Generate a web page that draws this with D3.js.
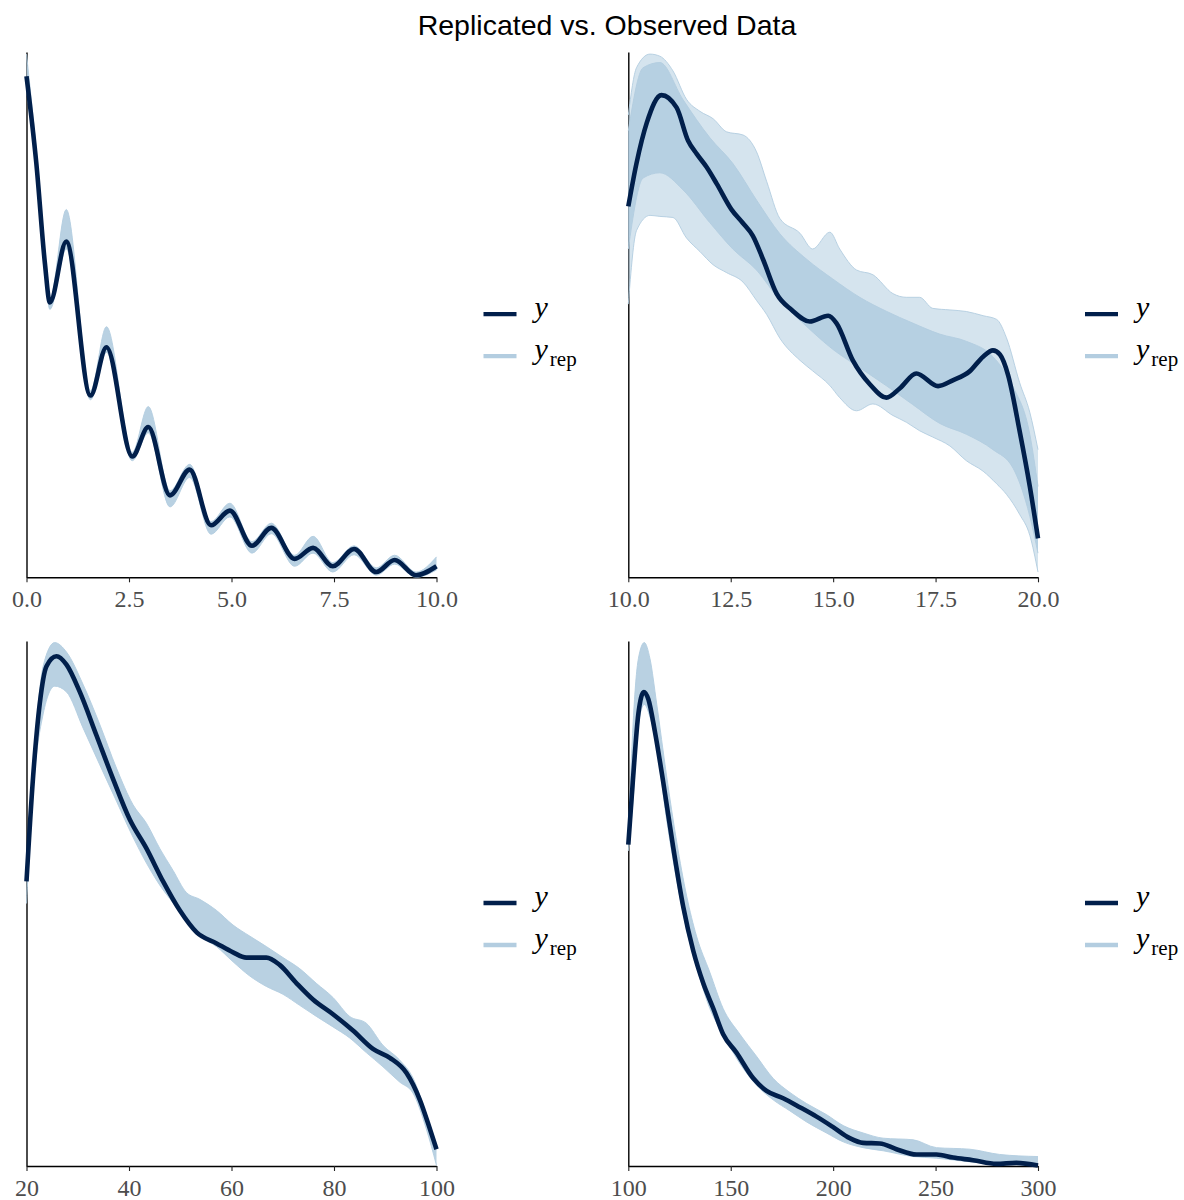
<!DOCTYPE html>
<html>
<head>
<meta charset="utf-8">
<script src="https://cdn.jsdelivr.net/npm/d3@7"></script>
<style>
  html, body { margin: 0; padding: 0; background: #ffffff; }
  svg { display: block; }
</style>
</head>
<body>
<div id="chart"></div>
<script>
// ---------------- DATA (relative density) ----------------
// Panel 1: observed y density
const p1X = [0, 0.24, 0.45, 0.57, 0.97, 1.56, 1.95, 2.58, 2.97, 3.5, 3.98, 4.5, 4.96, 5.5, 5.97, 6.54, 6.99, 7.47, 7.99, 8.53, 8.98, 9.5, 10];
const p1Y = [95.4, 78.8, 59.7, 52.3, 63.9, 34.6, 43.8, 23.0, 28.6, 15.6, 20.5, 9.9, 12.7, 6.0, 9.4, 3.5, 5.6, 2.1, 5.4, 1.0, 3.3, 0.4, 2.1];
// Panel 1: envelope of the replicated densities
const p1RepHi = [99.6, 81, 61, 53, 70, 35.5, 47.7, 23.8, 32.5, 16.5, 21.5, 10.6, 14.1, 6.8, 10.3, 4.2, 7.8, 2.8, 6.0, 1.8, 4.2, 1.0, 3.9];
const p1RepLo = [93, 77, 58.5, 51, 62.5, 33.8, 42.8, 22.2, 27.5, 13.4, 19.0, 8.2, 11.5, 4.6, 8.3, 2.1, 4.6, 1.0, 4.3, 0.4, 2.5, 0.0, 1.4];
const p1Ticks = [0, 2.5, 5, 7.5, 10];

// Panel 2
const p2X = [10.0, 10.2, 10.45, 10.81, 11.18, 11.46, 11.67, 11.91, 12.16, 12.52, 12.79, 13.04, 13.29, 13.62, 13.99, 14.43, 14.88, 15.08, 15.48, 15.9, 16.3, 16.63, 17.03, 17.56, 17.92, 18.33, 18.66, 18.9, 19.07, 19.27, 19.55, 19.8, 20.0];
const p2Y = [70.6, 78.8, 86.5, 91.8, 89.4, 83.1, 80.6, 78.1, 74.9, 70.0, 67.5, 65.0, 60.5, 54.0, 50.9, 48.7, 49.8, 48.4, 41.3, 36.7, 34.2, 36.0, 38.8, 36.4, 37.5, 39.2, 42.0, 43.2, 42.4, 38.5, 27.9, 17.3, 7.4];
const p2CoreX = [10.0, 10.36, 10.77, 11.33, 11.99, 12.55, 13.14, 13.7, 14.36, 14.99, 15.65, 16.31, 16.94, 17.6, 18.26, 18.9, 19.39, 19.8, 20.0];
const p2CoreHi = [85, 97, 98, 91, 83.7, 78.8, 71.7, 65.4, 60.5, 56.8, 53.3, 50.6, 48.4, 46.3, 44.9, 42.0, 36.3, 27.2, 17.3];
const p2CoreLo = [62.5, 76, 77, 73.8, 67.5, 62.5, 58.4, 52.7, 47.7, 43.4, 39.9, 36.4, 32.9, 29.3, 27.2, 24.3, 20.8, 11.6, 4.6];
const p2OutX = [10.0, 10.2, 10.53, 10.77, 11.09, 11.42, 11.75, 12.07, 12.4, 12.8, 13.13, 13.38, 13.7, 14.19, 14.5, 14.92, 15.16, 15.57, 15.97, 16.46, 16.79, 17.11, 17.43, 17.85, 18.25, 18.66, 18.99, 19.23, 19.55, 19.8, 20.0];
const p2OutHi = [88, 97, 99.6, 99.2, 96.4, 91, 88.7, 87.3, 84.8, 84.2, 81, 75.3, 68.3, 65.5, 62.5, 65.7, 62.5, 58.5, 57.6, 54.0, 53.3, 53.3, 51.2, 50.9, 50.6, 49.8, 49.1, 45.6, 37.1, 31.4, 24.3];
const p2OutLo = [52, 66.0, 68.9, 68.7, 68.5, 64.6, 62, 59.5, 58.0, 56.2, 52.7, 50, 45.5, 41.3, 39.3, 36.5, 34.2, 31.7, 33.0, 30.8, 29.5, 27.9, 26.7, 25.0, 22.2, 20.2, 17.8, 15.8, 12, 8.0, 1.0];
const p2Ticks = [10, 12.5, 15, 17.5, 20];

// Panel 3
const p3X = [20, 21.3, 22.6, 23.9, 25.85, 27.8, 30.4, 33.66, 36.9, 40.15, 43.4, 46.65, 49.9, 53.2, 57.1, 60.3, 62.9, 66.8, 69.4, 72.7, 75.9, 79.8, 83.7, 87.6, 90.9, 94.15, 96.75, 98.7, 100];
const p3Y = [54.2, 74.3, 88.2, 95.2, 97.1, 95.5, 90.3, 82.0, 73.7, 66.0, 60.5, 54.2, 48.7, 44.5, 42.4, 40.7, 39.7, 39.7, 38.3, 34.8, 31.7, 28.9, 25.8, 22.3, 20.6, 17.7, 12.6, 7.1, 3.2];
const p3RepX = [20, 21.3, 23.25, 25.5, 27.8, 31.05, 34.3, 37.55, 40.8, 43.4, 46, 48.6, 51.2, 53.8, 57.05, 60.3, 63.55, 66.8, 70.05, 73.3, 76.55, 79.8, 83.05, 86.3, 89.55, 92.8, 95.4, 98, 100];
const p3RepHi = [55, 75.8, 95.2, 99.7, 97.9, 91.7, 84.1, 75.8, 68.8, 65.3, 60.5, 56.3, 52.1, 50.8, 48.7, 45.9, 43.8, 41.8, 39.7, 37.6, 34.8, 32.1, 28.5, 27.2, 23.0, 20.2, 16.8, 9.8, 3.5];
const p3RepLo = [50, 71.6, 86.1, 91.4, 90.3, 83.4, 76.4, 69.5, 62.6, 57.7, 53.5, 50.1, 46.6, 43.8, 41.8, 38.9, 36.2, 34.2, 32.7, 30.6, 28.5, 26.5, 24.4, 21.6, 18.9, 16.0, 13.9, 7.1, 0.1];
const p3Ticks = [20, 40, 60, 80, 100];

// Panel 4
const p4X = [100, 102.4, 104.9, 107.6, 109.8, 113, 117.1, 122, 126.8, 131.7, 136.6, 141.5, 146.3, 152.8, 161, 167.5, 175.6, 183.7, 191.9, 200, 208.1, 214.6, 222.8, 230.9, 240.7, 250.4, 258.5, 268.3, 279.7, 289.4, 300];
const p4Y = [61.2, 74.3, 86.1, 90.3, 88.9, 82.7, 73.0, 60.5, 49.4, 41.0, 34.8, 30.0, 25.1, 21.6, 16.7, 14.3, 12.9, 11.2, 9.4, 7.4, 5.3, 4.4, 4.3, 3.2, 2.2, 2.2, 1.6, 1.1, 0.4, 0.6, 0.1];
const p4RepX = [100, 102.4, 104.9, 107.8, 110.6, 113.8, 118.7, 123.6, 128.5, 133.3, 139.8, 146.3, 154.5, 162.6, 170.7, 178.9, 187, 196.7, 204.9, 214.6, 224.4, 239, 250.4, 266.7, 281.3, 300];
const p4RepHi = [62, 84.7, 96.6, 99.7, 96.6, 88.2, 74.3, 61.8, 51.4, 43.8, 36.9, 30.0, 25.1, 20.9, 16.7, 14.0, 11.9, 9.8, 7.7, 6.3, 5.3, 5.0, 3.5, 3.2, 2.2, 1.8];
const p4RepLo = [60, 70, 84, 87.9, 85.5, 80, 66, 54.5, 45, 38, 30.0, 25.1, 19.5, 15.4, 12.6, 10.5, 8.4, 6.3, 4.6, 3.5, 2.9, 1.8, 1.5, 0.8, 0.4, 0.1];
const p4Ticks = [100, 150, 200, 250, 300];

const legendLabels = ["y", "rep"];
const titleText = "Replicated vs. Observed Data";

// ---------------- STYLE ----------------
const DARK = "#011f4b";
const LIGHT = "#b3cde0";
const SERIF = "'Liberation Serif', 'Times New Roman', Times, serif";
const SANS = "'Liberation Sans', Arial, Helvetica, sans-serif";

const W = 1184, H = 1200;
const svg = d3.select("#chart").append("svg").attr("width", W).attr("height", H);

svg.append("text")
  .attr("x", 607).attr("y", 35)
  .attr("text-anchor", "middle")
  .style("font-family", SANS).style("font-size", "28.5px").style("fill", "#000")
  .text(titleText);

const zip = (xs, ys) => xs.map((x, i) => [x, ys[i]]);
const zip3 = (xs, lo, hi) => xs.map((x, i) => [x, lo[i], hi[i]]);

const panels = [
  { box: [26.5, 436.5, 52, 577.3], dom: [0, 10], ticks: p1Ticks, fmt: d3.format(".1f"),
    obs: zip(p1X, p1Y), bands: [{ d: zip3(p1X, p1RepLo, p1RepHi), op: 0.92 }] },
  { box: [628.3, 1038, 52, 577.3], dom: [10, 20], ticks: p2Ticks, fmt: d3.format(".1f"),
    obs: zip(p2X, p2Y), bands: [{ d: zip3(p2OutX, p2OutLo, p2OutHi), op: 0.55 }, { d: zip3(p2CoreX, p2CoreLo, p2CoreHi), op: 0.9 }] },
  { box: [26.5, 436.5, 641, 1166], dom: [20, 100], ticks: p3Ticks, fmt: d3.format("d"),
    obs: zip(p3X, p3Y), bands: [{ d: zip3(p3RepX, p3RepLo, p3RepHi), op: 0.92 }] },
  { box: [628.3, 1038, 641, 1166], dom: [100, 300], ticks: p4Ticks, fmt: d3.format("d"),
    obs: zip(p4X, p4Y), bands: [{ d: zip3(p4RepX, p4RepLo, p4RepHi), op: 0.92 }] }
];

panels.forEach(p => {
  const [x0, x1, yTop, yBot] = p.box;
  const x = d3.scaleLinear().domain(p.dom).range([x0, x1]);
  const y = d3.scaleLinear().domain([0, 100]).range([yBot, yTop]);
  const g = svg.append("g");

  // axes
  const xa = g.append("g").attr("transform", `translate(0,${yBot})`)
    .call(d3.axisBottom(x).tickValues(p.ticks).tickFormat(p.fmt).tickSize(5).tickSizeOuter(0).tickPadding(7.7));
  const ya = g.append("g").attr("transform", `translate(${x0},0)`)
    .call(d3.axisLeft(y).tickValues([]).tickSizeOuter(0));
  [xa, ya].forEach(a => {
    a.select(".domain").attr("stroke", "#000").attr("stroke-width", 1.4);
    a.selectAll(".tick line").attr("stroke", "#222").attr("stroke-width", 1.1);
    a.selectAll(".tick text").style("font-family", SERIF).style("font-size", "24px").attr("fill", "#4d4d4d");
  });

  // replicated densities (envelopes)
  const area = d3.area().x(d => x(d[0])).y0(d => y(d[1])).y1(d => y(d[2])).curve(d3.curveMonotoneX);
  const hiLine = d3.line().x(d => x(d[0])).y(d => y(d[2])).curve(d3.curveMonotoneX);
  const loLine = d3.line().x(d => x(d[0])).y(d => y(d[1])).curve(d3.curveMonotoneX);
  p.bands.forEach(b => {
    g.append("path").attr("d", area(b.d)).attr("fill", LIGHT).attr("fill-opacity", b.op).attr("stroke", "none");
    [hiLine, loLine].forEach(ln => g.append("path").attr("d", ln(b.d))
      .attr("fill", "none").attr("stroke", LIGHT).attr("stroke-width", 1).attr("stroke-opacity", 0.9));
  });

  // observed density
  const line = d3.line().x(d => x(d[0])).y(d => y(d[1])).curve(d3.curveMonotoneX);
  g.append("path").attr("d", line(p.obs)).attr("fill", "none")
    .attr("stroke", DARK).attr("stroke-width", 4.6).attr("stroke-linejoin", "round").attr("stroke-linecap", "butt");

  // legend
  const lx = x1 + 47;
  const midY = (yTop + yBot) / 2 + 20.5;
  const rows = [{ c: DARK, yy: midY - 21 }, { c: LIGHT, yy: midY + 21 }];
  const lg = svg.append("g");
  rows.forEach((r, i) => {
    lg.append("line").attr("x1", lx).attr("x2", lx + 33).attr("y1", r.yy).attr("y2", r.yy)
      .attr("stroke", r.c).attr("stroke-width", 4.4);
    const t = lg.append("text").attr("x", lx + 51).attr("y", r.yy + 3)
      .style("font-family", SERIF).style("font-size", "30px").attr("fill", "#000");
    t.append("tspan").style("font-style", "italic").text(legendLabels[0]);
    if (i === 1) t.append("tspan").attr("dx", 2).attr("dy", 7).style("font-size", "21px").text(legendLabels[1]);
  });
});
</script>
</body>
</html>
